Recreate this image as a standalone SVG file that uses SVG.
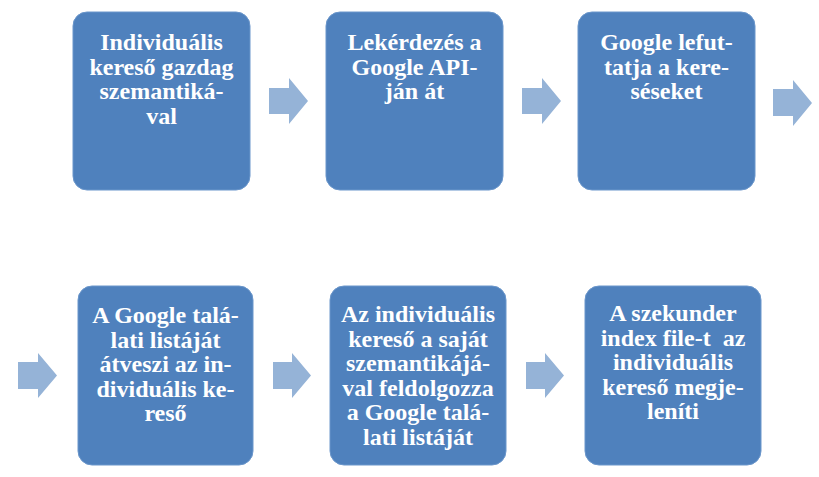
<svg xmlns="http://www.w3.org/2000/svg" width="819" height="477" viewBox="0 0 819 477">
<style>
.box{fill:#4F81BD;stroke:#6A96CB;stroke-width:1}
.arr{fill:#95B3D7}
</style>
<rect width="819" height="477" fill="#FFFFFF"/>
<g id="connectors">
<polygon class="arr" points="269,88 289,88 289,78 308,101 289,124 289,114 269,114"/>
<polygon class="arr" points="522,88 542,88 542,78 561,101 542,124 542,114 522,114"/>
<polygon class="arr" points="773,89 793,89 793,80 812,103 793,126 793,116 773,116"/>
<polygon class="arr" points="18,362 38,362 38,353 57,375.5 38,398 38,389 18,389"/>
<polygon class="arr" points="273,362 292,362 292,353 311,375.5 292,398 292,389 273,389"/>
<polygon class="arr" points="526,362 545,362 545,353 564,375.5 545,398 545,389 526,389"/>
</g>
<g font-family="'Liberation Serif', serif" font-weight="bold" font-size="24" fill="#FFFFFF" text-anchor="middle">
<g id="node1">
<rect class="box" x="73" y="12" width="177" height="178" rx="14"/>
<text x="161.5" y="50">Individuális</text>
<text x="161.5" y="74.5">kereső gazdag</text>
<text x="161.5" y="99">szemantiká-</text>
<text x="161.5" y="123.5">val</text>
</g>
<g id="node2">
<rect class="box" x="326" y="12" width="177" height="178" rx="14"/>
<text x="414.5" y="50">Lekérdezés a</text>
<text x="414.5" y="74.5">Google API-</text>
<text x="414.5" y="99">ján át</text>
</g>
<g id="node3">
<rect class="box" x="578" y="12" width="177" height="178" rx="14"/>
<text x="666.5" y="50">Google lefut-</text>
<text x="666.5" y="74.5">tatja a kere-</text>
<text x="666.5" y="99">séseket</text>
</g>
<g id="node4">
<rect class="box" x="78" y="286" width="175" height="179" rx="14"/>
<text x="165.5" y="323">A Google talá-</text>
<text x="165.5" y="347.5">lati listáját</text>
<text x="165.5" y="372">átveszi az in-</text>
<text x="165.5" y="396.5">dividuális ke-</text>
<text x="165.5" y="421">reső</text>
</g>
<g id="node5">
<rect class="box" x="330" y="286" width="176" height="179" rx="14"/>
<text x="418" y="322">Az individuális</text>
<text x="418" y="346.5">kereső a saját</text>
<text x="418" y="371">szemantikájá-</text>
<text x="418" y="395.5">val feldolgozza</text>
<text x="418" y="420">a Google talá-</text>
<text x="418" y="444.5">lati listáját</text>
</g>
<g id="node6">
<rect class="box" x="585" y="286" width="176" height="179" rx="14"/>
<text x="673" y="321">A szekunder</text>
<text x="673" y="345.5">index file-t&#160; az</text>
<text x="673" y="370">individuális</text>
<text x="673" y="394.5">kereső megje-</text>
<text x="673" y="419">leníti</text>
</g>
</g>
</svg>
